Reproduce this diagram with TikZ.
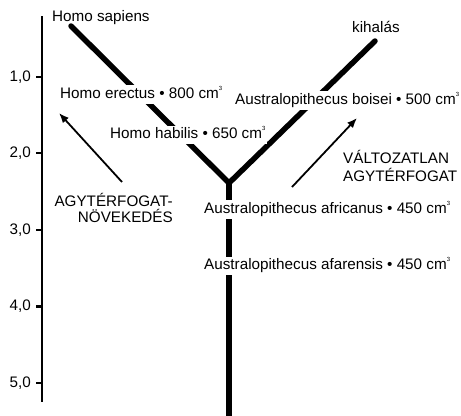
\documentclass[tikz,border=0pt]{standalone}
\usepackage{fontspec}
\setmainfont{Liberation Sans}
\usetikzlibrary{arrows.meta}
\newcommand{\cmc}{cm\raisebox{0.95ex}{\fontsize{6}{6}\selectfont 3}}
\begin{document}
\begin{tikzpicture}[x=1bp,y=-1bp,
  lbl/.style={font=\fontsize{15.3}{18}\selectfont, fill=white, inner sep=2bp, text height=11bp, text depth=3.5bp, anchor=base west},
  plain/.style={font=\fontsize{15.3}{18}\selectfont, inner sep=0pt, anchor=base west},
  tlbl/.style={font=\fontsize{15.3}{18}\selectfont, inner sep=0pt, anchor=base east},
  branch/.style={line width=5.5bp, line cap=round, line join=miter},
  axisline/.style={line width=2.2bp},
  trend/.style={line width=1.8bp, -{Latex[length=10bp,width=8bp]}}]
\useasboundingbox (0,0) rectangle (461,415);
% axis
\coordinate (axtop) at (42,16);
\coordinate (axbot) at (42,402);
\draw[axisline] (axtop) -- (axbot);
\foreach \yy/\lab [count=\i] in {76.6/{1,0},153.2/{2,0},229.8/{3,0},306.4/{4,0},383/{5,0}}{
  \coordinate (tk\i) at (36,\yy);
  \draw[axisline] (tk\i) -- (42,\yy);
  \node[tlbl] (tl\i) at (31,\yy+4.5) {\lab};
}
% tree
\coordinate (fork) at (229,183);
\coordinate (sapend) at (71,26);
\coordinate (extend) at (375,41);
\coordinate (trunkbot) at (229,416);
\draw[branch] (sapend) -- (fork) -- (extend);
\draw[line width=5.5bp] (fork) -- (trunkbot);
% arrows
\coordinate (la1) at (122,182);
\coordinate (la2) at (59,113);
\coordinate (ra1) at (292,187);
\coordinate (ra2) at (357,118);
\draw[trend] (la1) -- (la2);
\draw[trend] (ra1) -- (ra2);
% labels
\node[plain] (sapiens) at (52,21) {Homo sapiens};
\node[plain] (kihalas) at (352,32) {kihalás};
\node[lbl] (erectus) at (58,98) {Homo erectus • 800 \cmc};
\node[lbl] (habilis) at (108,138.5) {Homo habilis • 650 \cmc};
\node[lbl] (boisei) at (233,104) {Australopithecus boisei • 500 \cmc};
\node[lbl] (africanus) at (202,213) {Australopithecus africanus • 450 \cmc};
\node[lbl] (afarensis) at (202,269.5) {Australopithecus afarensis • 450 \cmc};
\node[plain] (valt1) at (343,163) {VÁLTOZATLAN};
\node[plain] (valt2) at (343,181) {AGYTÉRFOGAT};
\node[tlbl] (nov1) at (173,206) {AGYTÉRFOGAT-};
\node[tlbl] (nov2) at (173,222) {NÖVEKEDÉS};
\end{tikzpicture}
\end{document}
